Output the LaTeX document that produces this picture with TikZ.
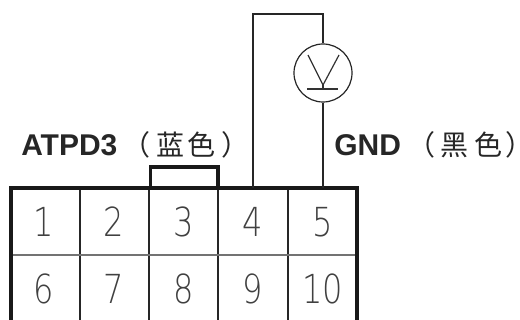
\documentclass[tikz,border=0pt]{standalone}
\usepackage{fontspec}
\setmainfont{Liberation Sans}
\newfontfamily\cjk{Noto Sans CJK SC}
\newfontfamily\cjkp[RawFeature=+palt]{Noto Sans CJK SC}
\newfontfamily\thin{DejaVu Sans ExtraLight}
\tikzset{
  x=0.75pt,y=-0.75pt,
  heavy/.style={line width=2.6pt,black!90,line join=miter},
  grid/.style={line width=0.95pt,black!85},
  rowline/.style={line width=1.05pt,black!55},
  wire/.style={line width=1.05pt,black!85},
  meter/.style={circle,draw=black!85,line width=0.9pt,minimum size=43.5pt,inner sep=0pt},
  sym/.style={line width=0.9pt,black!80},
  digit/.style={inner sep=0pt,text=black!75,font=\thin\fontsize{30}{30}\selectfont,xscale=0.8},
  lab/.style={inner sep=0pt,anchor=base west,text=black!85,font=\fontsize{22.5}{24}\selectfont\bfseries},
  zh/.style={inner sep=0pt,anchor=base,text=black!85,font=\cjk\fontsize{21}{24}\selectfont},
  zhp/.style={inner sep=0pt,anchor=base,text=black!85,font=\cjkp\fontsize{21}{24}\selectfont}
}
\begin{document}
\begin{tikzpicture}
\useasboundingbox (0,0) rectangle (520,320);
% grid
\foreach \x in {80,149,218,288}{\draw[grid] (\x,188) -- (\x,320);}
\draw[rowline] (11,255) -- (357,255);
% outline
\coordinate (bl) at (11,320); \coordinate (tl) at (11,188);
\coordinate (tr) at (357,188); \coordinate (br) at (357,320);
\draw[heavy] (bl) -- (tl) -- (tr) -- (br);
\coordinate (b1) at (150.5,188); \coordinate (b2) at (150.5,167);
\coordinate (b3) at (218,167); \coordinate (b4) at (218,188);
\draw[line width=2.4pt,black!90] (b1) -- (b2) -- (b3) -- (b4);
% digits
\foreach \t/\x/\y in {1/44/222,2/114/222,3/184/222,4/253/222,5/323/222,6/44/289,7/114/289,8/184/289,9/253/289,10/323/289}{
  \node[digit] (d\t) at (\x,\y) {\t};
}
% meter
\node[meter] (m) at (323,73) {};
\coordinate (w1) at (253,188); \coordinate (w2) at (253,14); \coordinate (w3) at (323,14);
\coordinate (w4) at (323,188);
\draw[wire] (w1) -- (w2) -- (w3) -- (m.north);
\draw[wire] (m.south) -- (w4);
\coordinate (v1) at (308,55); \coordinate (v2) at (323,85); \coordinate (v3) at (339,55);
\coordinate (v4) at (323,89); \coordinate (v5) at (307,89); \coordinate (v6) at (338,89);
\draw[sym] (v1) -- (v2) -- (v3);
\draw[sym] (v2) -- (v4);
\draw[sym] (v5) -- (v6);
% labels
\node[lab] (atpd) at (21,156) {ATPD3};
\node[zhp] (z1) at (142,156) {（};
\node[zh] (z2) at (170,156) {蓝};
\node[zh] (z3) at (201,156) {色};
\node[zhp] (z4) at (230,156) {）};
\node[lab] (gnd) at (334,156) {GND};
\node[zhp] (z5) at (427,156) {（};
\node[zh] (z6) at (454,156) {黑};
\node[zh] (z7) at (488,156) {色};
\node[zhp] (z8) at (513,156) {）};
\end{tikzpicture}
\end{document}
